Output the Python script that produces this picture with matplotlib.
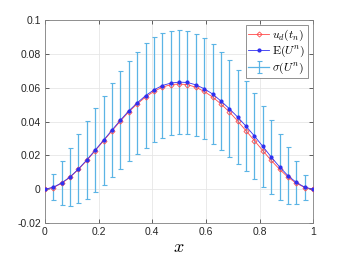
import numpy as np
import matplotlib
matplotlib.use("Agg")
import matplotlib.pyplot as plt
from matplotlib.lines import Line2D
from matplotlib.legend_handler import HandlerTuple

plt.rcParams['mathtext.fontset'] = 'cm'
plt.rcParams['font.family'] = ['Liberation Sans', 'DejaVu Sans']

x = np.arange(33) / 32.0

mean_U = [0, 0.0012, 0.0038, 0.0073, 0.012, 0.0174, 0.0232, 0.029, 0.035, 0.0408,
          0.0463, 0.051, 0.0553, 0.0587, 0.0613, 0.0627, 0.0633, 0.0631, 0.0617,
          0.0594, 0.0563, 0.0521, 0.0476, 0.0426, 0.0372, 0.0314, 0.0253, 0.019,
          0.0132, 0.008, 0.004, 0.0012, 0]

std_U = [0, 0.0076, 0.0129, 0.0172, 0.0204, 0.0231, 0.0247, 0.0263, 0.0279, 0.0289,
         0.0297, 0.0302, 0.0309, 0.031, 0.031, 0.0307, 0.0307, 0.0307, 0.0303,
         0.03, 0.0297, 0.0291, 0.0285, 0.0276, 0.0266, 0.0255, 0.024, 0.0221,
         0.0197, 0.0168, 0.0127, 0.0074, 0]

u_d = [0, 0.001, 0.0035, 0.0071, 0.0118, 0.017, 0.0228, 0.0287, 0.0345, 0.0403,
       0.0457, 0.0504, 0.0545, 0.0578, 0.0603, 0.0618, 0.0622, 0.0618, 0.0603,
       0.0578, 0.0545, 0.0504, 0.0457, 0.0403, 0.0345, 0.0287, 0.0228, 0.017,
       0.0118, 0.0071, 0.0035, 0.001, 0]

xticks = [0, 0.2, 0.4, 0.6, 0.8, 1]
xticklabels = ['0', '0.2', '0.4', '0.6', '0.8', '1']
yticks = [-0.02, 0, 0.02, 0.04, 0.06, 0.08, 0.1]
yticklabels = ['-0.02', '0', '0.02', '0.04', '0.06', '0.08', '0.1']

fig = plt.figure(figsize=(3.46, 2.60), dpi=100)
ax = fig.add_axes([0.130, 0.142, 0.775, 0.781])

ebc = '#5BB4E5'
red = '#FF4A4A'
blue = '#3030F0'
h1, = ax.plot(x, u_d, '-', color=red, lw=0.6, marker='D', ms=2.6,
              mfc='none', mec=red, mew=0.6, zorder=3)
h2, = ax.plot(x, mean_U, '-', color=blue, lw=0.6, marker='o', ms=2.0,
              mfc=blue, mec=blue, zorder=4)
eb = ax.errorbar(x, mean_U, yerr=std_U, fmt='none', ecolor=ebc, elinewidth=0.9,
                 capsize=1.8, capthick=0.8, zorder=2)
hline = Line2D([], [], color=ebc, lw=0.9)

ax.set_xlim(0, 1)
ax.set_ylim(-0.02, 0.1)
ax.set_xticks(xticks)
ax.set_xticklabels(xticklabels)
ax.set_yticks(yticks)
ax.set_yticklabels(yticklabels)
ax.grid(True, color='#E6E6E6', lw=0.6)
ax.set_axisbelow(True)
ax.tick_params(direction='in', length=3, width=0.5, labelsize=7.5,
               colors='#262626', top=True, right=True, pad=3)
for s in ax.spines.values():
    s.set_color('#808080')
    s.set_linewidth(0.6)

ax.set_xlabel(r'$x$', fontsize=13, labelpad=1)

leg = ax.legend([h1, h2, (hline, eb)],
                [r'$u_d(t_n)$', r'$\mathrm{E}(U^n)$', r'$\sigma(U^n)$'],
                handler_map={tuple: HandlerTuple(ndivide=1, pad=0)},
                loc='upper right', fontsize=8.5, handlelength=1.8,
                borderpad=0.2, labelspacing=0.1, handletextpad=0.25,
                borderaxespad=0.45, fancybox=False, framealpha=1)
leg.get_frame().set_edgecolor('#808080')
leg.get_frame().set_linewidth(0.6)

fig.savefig('out.png', dpi=100)
